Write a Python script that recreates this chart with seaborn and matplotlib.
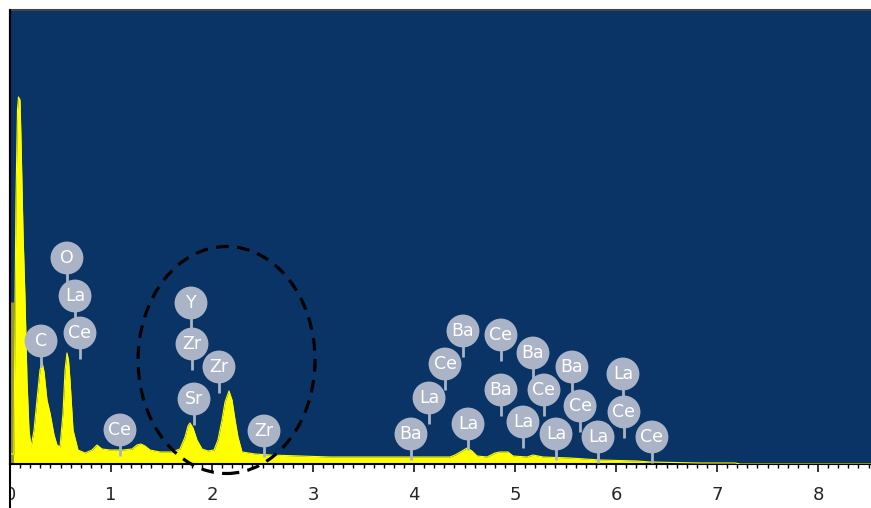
import matplotlib
matplotlib.use("Agg")
import matplotlib.pyplot as plt
import seaborn as sns
import pandas as pd
from matplotlib.patches import Ellipse
from matplotlib.lines import Line2D
from matplotlib.ticker import MultipleLocator
from matplotlib.transforms import Bbox

sns.set_style("white")
plt.rcParams["font.family"] = ["DejaVu Sans"]

# ---- spectrum (energy in keV, counts in arbitrary units) ----
energy = [0.000, 0.040, 0.050, 0.059, 0.074, 0.084, 0.099, 0.109, 0.129, 0.149,
          0.168, 0.188, 0.208, 0.238, 0.267, 0.297, 0.317, 0.337, 0.366, 0.396,
          0.436, 0.465, 0.495, 0.525, 0.545, 0.564, 0.579, 0.594, 0.624, 0.673,
          0.743, 0.812, 0.861, 0.911, 0.990, 1.119, 1.208, 1.257, 1.297, 1.337,
          1.386, 1.485, 1.604, 1.683, 1.733, 1.762, 1.782, 1.812, 1.851, 1.901,
          1.960, 2.020, 2.059, 2.099, 2.129, 2.168, 2.198, 2.228, 2.257, 2.297,
          2.426, 2.574, 2.871, 3.168, 3.465, 3.861, 4.158, 4.356, 4.406, 4.475,
          4.525, 4.574, 4.624, 4.723, 4.802, 4.851, 4.931, 4.980, 5.119, 5.178,
          5.277, 5.545, 5.842, 6.208, 6.337, 6.832, 7.178, 7.228, 8.525]
counts = [10, 10, 164, 264, 354, 367, 364, 324, 231, 164,
          84, 34, 17, 34, 64, 94, 102, 92, 64, 51,
          29, 19, 17, 51, 94, 111, 104, 84, 34, 14,
          11, 14, 19, 15, 14, 14, 15, 19, 20, 18,
          14, 12, 12, 15, 27, 38, 41, 36, 24, 15,
          13, 14, 24, 44, 62, 73, 64, 44, 27, 12,
          10, 9, 8, 7, 7, 7, 7, 7, 9, 13,
          16, 13, 8, 7, 11, 12, 12, 8, 7, 9,
          7, 6, 4, 3, 2, 1, 1, 0, 0]

zero_peak_energy = [0.015]
zero_peak_counts = [162]

# ---- element markers ----
label_element = ["O", "La", "Ce", "C", "Ce", "Y", "Zr", "Zr", "Sr", "Zr",
                 "Ba", "La", "Ce", "Ba", "Ce", "Ba", "Ba", "La", "La", "Ba",
                 "Ce", "La", "Ce", "Ce", "La", "La", "Ce"]
label_energy = [0.564, 0.644, 0.693, 0.307, 1.089, 1.792, 1.802, 2.069, 1.822, 2.515,
                3.970, 4.149, 4.307, 4.485, 4.861, 5.178, 5.564, 6.069, 4.535, 4.861,
                5.287, 5.079, 5.644, 6.079, 5.406, 5.822, 6.356]
label_height = [206, 168, 131, 123, 34, 161, 120, 97, 65, 33,
                30, 66, 100, 133, 129, 111, 97, 90, 40, 74,
                74, 42, 58, 52, 30, 27, 27]

x_ticks = [0, 1, 2, 3, 4, 5, 6, 7, 8]
x_tick_labels = ["0", "1", "2", "3", "4", "5", "6", "7", "8"]

spec = pd.DataFrame({"energy": energy, "counts": counts})
marks = pd.DataFrame({"element": label_element, "energy": label_energy,
                      "height": label_height})

W, H = 871, 508
fig = plt.figure(figsize=(W / 100, H / 100), dpi=100)
fig.patch.set_facecolor("white")
ax = fig.add_axes([10 / W, 44 / H, 861 / W, 454 / H])
ax.set_facecolor("#0A3466")

yellow = "#FFFF00"
ax.fill_between(spec["energy"], spec["counts"], 0, color=yellow, lw=0, zorder=2)
sns.lineplot(data=spec, x="energy", y="counts", color=yellow, lw=0.8,
             ax=ax, zorder=3, legend=False)
ax.vlines(zero_peak_energy, 0, zero_peak_counts, color="#9A9A2A", lw=2.2, zorder=2)

circ_col = "#AAB4C6"
ax.vlines(marks["energy"], marks["height"] - 26, marks["height"], color=circ_col,
          lw=2.0, zorder=4)
sns.scatterplot(data=marks, x="energy", y="height", s=560, color=circ_col,
                edgecolor="none", ax=ax, zorder=5, legend=False)
for _, r in marks.iterrows():
    ax.text(r["energy"], r["height"], r["element"], color="white", fontsize=12.5,
            ha="center", va="center", zorder=6)

ell = Ellipse((2.144, 104), width=1.752, height=227, fill=False, edgecolor="black",
              lw=2.3, linestyle=(0, (4, 2.6)), zorder=7, clip_on=False)
ax.add_patch(ell)

ax.set_xlim(0, 861 / 101)
ax.set_ylim(0, 454)
ax.set_xlabel("")
ax.set_ylabel("")
ax.set_yticks([])
ax.set_xticks(x_ticks)
ax.set_xticklabels(x_tick_labels)
ax.xaxis.set_minor_locator(MultipleLocator(0.1))
ax.tick_params(axis="x", which="major", direction="out", length=5.5, width=1.1,
               color="black", labelsize=13, pad=10, bottom=True)
ax.tick_params(axis="x", which="minor", direction="out", length=3, width=1.0,
               color="black", bottom=True)

ax.spines["right"].set_visible(False)
ax.spines["top"].set_color("#444444")
ax.spines["top"].set_linewidth(1.5)
ax.spines["left"].set_color("black")
ax.spines["left"].set_linewidth(1.5)
ax.spines["bottom"].set_color("black")
ax.spines["bottom"].set_linewidth(1.5)

# left border line running down through the tick label area
fig.add_artist(Line2D([10 / W, 10 / W], [0, 498 / H], transform=fig.transFigure,
                      color="black", lw=1.5, zorder=10))

# clip the "0" label at the left border, like the original
clipbox = Bbox.from_extents(10, 0, W, H)
for t in ax.xaxis.get_major_ticks():
    t.label1.set_clip_on(True)
    t.label1.set_clip_box(clipbox)

fig.savefig("out.png", dpi=100, facecolor="white")
